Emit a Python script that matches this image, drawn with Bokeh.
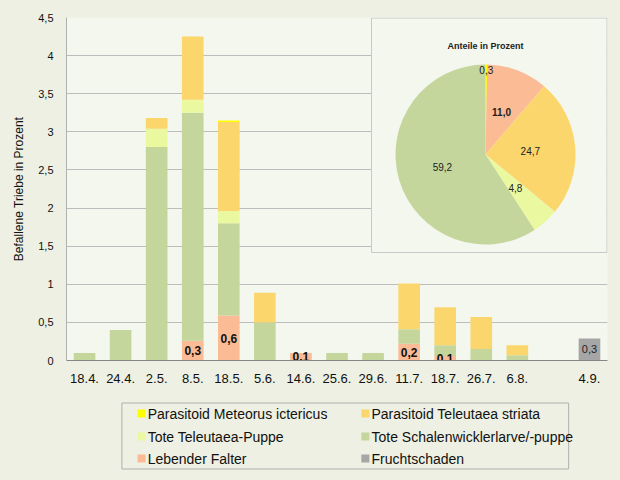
import math
from bokeh.plotting import figure
from bokeh.models import (Range1d, FixedTicker, ColumnDataSource,
                          CustomJSTickFormatter)
from bokeh.layouts import column
from bokeh.core.properties import value
from bokeh.embed import file_html
from bokeh.resources import INLINE

# ---------------- data ----------------
dates = ["18.4.", "24.4.", "2.5.", "8.5.", "18.5.", "5.6.", "14.6.", "25.6.",
         "29.6.", "11.7.", "18.7.", "26.7.", "6.8.", "", "4.9."]
falter    = [0, 0, 0, 0.26, 0.59, 0, 0.10, 0, 0, 0.22, 0.06, 0, 0, 0, 0]
schalen   = [0.10, 0.40, 2.80, 2.99, 1.21, 0.50, 0, 0.10, 0.10, 0.19, 0.14, 0.15, 0.07, 0, 0]
puppe     = [0, 0, 0.24, 0.17, 0.16, 0, 0, 0, 0, 0, 0, 0, 0, 0, 0]
teleutaea = [0, 0, 0.14, 0.83, 1.17, 0.39, 0, 0, 0, 0.60, 0.50, 0.42, 0.13, 0, 0]
meteorus  = [0, 0, 0, 0, 0.02, 0, 0, 0, 0, 0, 0, 0, 0, 0, 0]
frucht    = [0, 0, 0, 0, 0, 0, 0, 0, 0, 0, 0, 0, 0, 0, 0.29]

yticks = [0, 0.5, 1, 1.5, 2, 2.5, 3, 3.5, 4, 4.5]

# pie shares (percent), clockwise from 12 o'clock
pie_names  = ["Parasitoid Meteorus ictericus", "Lebender Falter",
              "Parasitoid Teleutaea striata", "Tote Teleutaea-Puppe",
              "Tote Schalenwicklerlarve/-puppe"]
pie_values = [0.3, 11.0, 24.7, 4.8, 59.2]
pie_bold   = [False, True, False, False, False]

series_names = ["Parasitoid Meteorus ictericus", "Parasitoid Teleutaea striata",
                "Tote Teleutaea-Puppe", "Tote Schalenwicklerlarve/-puppe",
                "Lebender Falter", "Fruchtschaden"]

colors = {
    "Parasitoid Meteorus ictericus": "#ffff00",
    "Parasitoid Teleutaea striata": "#fbd66c",
    "Tote Teleutaea-Puppe": "#eaf8a0",
    "Tote Schalenwicklerlarve/-puppe": "#c4d69c",
    "Lebender Falter": "#fbbb95",
    "Fruchtschaden": "#a6a6a6",
}

FONT = "Liberation Sans"
OUTER = "#edf0e2"
INNER = "#f4f7ee"

def de(v):
    return f"{v:.1f}".replace(".", ",")

# ---------------- main chart ----------------
W, H1 = 620, 392
xs = list(range(len(dates)))
p = figure(width=W, height=H1, x_range=Range1d(-0.5, len(dates) - 0.5),
           y_range=Range1d(0, 4.5), output_backend="svg", toolbar_location=None,
           min_border_left=66, min_border_right=13, min_border_top=17,
           min_border_bottom=32)
p.border_fill_color = OUTER
p.background_fill_color = INNER
p.outline_line_color = None

src = ColumnDataSource(dict(x=xs, falter=falter, schalen=schalen,
                            puppe=puppe, teleutaea=teleutaea,
                            meteorus=meteorus, frucht=frucht))
stack_keys = ["falter", "schalen", "puppe", "teleutaea", "meteorus"]
stack_cols = [colors["Lebender Falter"], colors["Tote Schalenwicklerlarve/-puppe"],
              colors["Tote Teleutaea-Puppe"], colors["Parasitoid Teleutaea striata"],
              colors["Parasitoid Meteorus ictericus"]]
p.vbar_stack(stack_keys, x="x", width=0.6, color=stack_cols, line_color=None,
             source=src)
p.vbar(x="x", top="frucht", width=0.6, color=colors["Fruchtschaden"],
       line_color=None, source=src)

# labels for Lebender Falter
lab_x = [i for i, v in zip(xs, falter) if v > 0]
lab_y = [v / 2 for v in falter if v > 0]
lab_t = [de(v) for v in falter if v > 0]
p.text(x=lab_x, y=lab_y, text=lab_t, text_align="center", text_baseline="middle",
       text_font=value(FONT), text_font_size="12px", text_font_style="bold",
       text_color="#111111")
fr_x = [i for i, v in zip(xs, frucht) if v > 0]
fr_y = [v / 2 for v in frucht if v > 0]
fr_t = [de(v) for v in frucht if v > 0]
p.text(x=fr_x, y=fr_y, text=fr_t, text_align="center", text_baseline="middle",
       text_font=value(FONT), text_font_size="11px", text_color="#222222")

# axes
p.xgrid.visible = False
p.ygrid.grid_line_color = "#bdbdbd"
p.yaxis.ticker = FixedTicker(ticks=yticks)
p.yaxis.formatter = CustomJSTickFormatter(code="return tick.toString().replace('.', ',');")
p.xaxis.ticker = FixedTicker(ticks=xs)
p.xaxis.major_label_overrides = {i: d for i, d in zip(xs, dates)}
for ax in (p.xaxis, p.yaxis):
    ax.major_tick_line_color = None
    ax.minor_tick_line_color = None
    ax.major_label_text_font = FONT
    ax.major_label_text_color = "#111111"
p.yaxis.axis_line_color = "#b0b0b0"
p.xaxis.axis_line_color = "#868686"
p.yaxis.major_label_text_font_size = "11px"
p.xaxis.major_label_text_font_size = "13px"
p.yaxis.major_label_standoff = 7
p.xaxis.major_label_standoff = 7
p.yaxis.axis_label = "Befallene Triebe in Prozent"
p.yaxis.axis_label_text_font = FONT
p.yaxis.axis_label_text_font_size = "12px"
p.yaxis.axis_label_text_font_style = "normal"
p.yaxis.axis_label_text_color = "#111111"
p.yaxis.axis_label_standoff = 9

# ---------------- pie inset (pixel-based extra ranges) ----------------
FW, FH = W - 66 - 13, H1 - 17 - 32
p.extra_x_ranges["px"] = Range1d(0, FW)
p.extra_y_ranges["px"] = Range1d(0, FH)
p.quad(left=[305], right=[FW - 0.5], bottom=[108], top=[FH - 0.5],
       fill_color=INNER, line_color="#c8c8c8", line_width=1,
       x_range_name="px", y_range_name="px")

cx, cy, R = 419, 206, 90
total = sum(pie_values)
starts, ends, mids = [], [], []
cum = 0.0
for v in pie_values:
    a0 = math.pi / 2 - 2 * math.pi * cum / total
    cum += v
    a1 = math.pi / 2 - 2 * math.pi * cum / total
    starts.append(a0); ends.append(a1); mids.append((a0 + a1) / 2)
pie_src = ColumnDataSource(dict(x=[cx] * len(pie_values), y=[cy] * len(pie_values),
                                start=starts, end=ends,
                                color=[colors[n] for n in pie_names]))
p.wedge(x="x", y="y", radius=R, radius_units="screen", start_angle="start",
        end_angle="end", direction="clock", fill_color="color", line_color=None,
        source=pie_src, x_range_name="px", y_range_name="px")

for v, m, b in zip(pie_values, mids, pie_bold):
    rr = R * (0.94 if v < 1 else 0.5)
    p.text(x=[cx + rr * math.cos(m)], y=[cy + rr * math.sin(m)], text=[de(v)],
           text_align="center", text_baseline="middle", text_font=value(FONT),
           text_font_size="10px", text_font_style="bold" if b else "normal",
           text_color="#222222", x_range_name="px", y_range_name="px")

p.text(x=[cx], y=[315], text=["Anteile in Prozent"], text_align="center",
       text_baseline="middle", text_font=value(FONT), text_font_size="9px",
       text_font_style="bold", text_color="#222222",
       x_range_name="px", y_range_name="px")

# ---------------- legend panel ----------------
H2 = 480 - H1
q = figure(width=W, height=H2, x_range=Range1d(0, W), y_range=Range1d(0, H2),
           output_backend="svg", toolbar_location=None,
           min_border=0, min_border_left=0, min_border_right=0,
           min_border_top=0, min_border_bottom=0)
q.border_fill_color = OUTER
q.background_fill_color = OUTER
q.outline_line_color = None
q.axis.visible = False
q.grid.visible = False

q.quad(left=[63.5], right=[575.5], bottom=[11.5], top=[77.5], fill_color=None,
       line_color="#b0b0b0", line_width=1)
col_x = [86, 342.5]
row_y = [67, 44, 22]
for i, name in enumerate(series_names):
    c, r = i % 2, i // 2
    q.rect(x=[col_x[c]], y=[row_y[r]], width=8, height=8,
           width_units="screen", height_units="screen",
           fill_color=colors[name], line_color=None)
    q.text(x=[col_x[c] + 7], y=[row_y[r]], text=[name], text_align="left",
           text_baseline="middle", text_font=value(FONT), text_font_size="14px",
           text_color="#111111")

layout = column(p, q, spacing=0, styles={"background-color": OUTER})
open("out.html", "w").write(file_html(layout, INLINE))
